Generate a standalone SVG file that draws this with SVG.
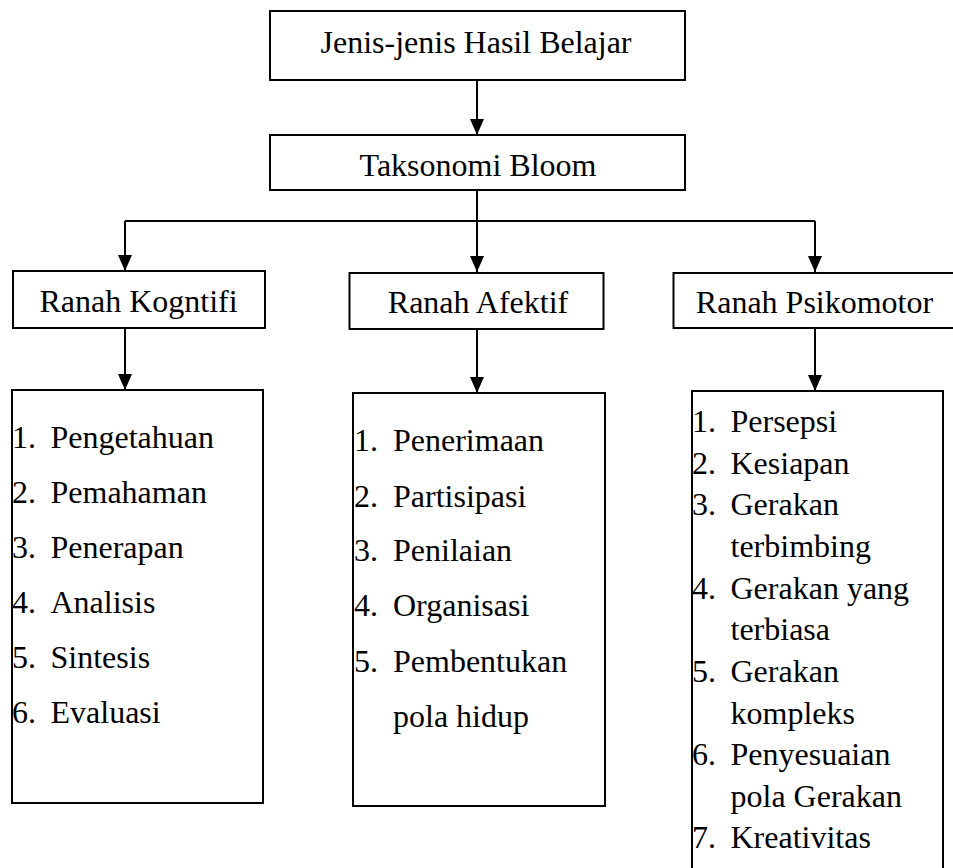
<svg xmlns="http://www.w3.org/2000/svg" width="953" height="868" viewBox="0 0 953 868">
<style>
rect{fill:#fff;stroke:#000;stroke-width:2}
text{font-family:'Liberation Serif',serif;font-size:32px;fill:#000}
.c{text-anchor:middle}
.ln{fill:none;stroke:#000;stroke-width:2}
</style>
<defs>
<marker id="ah" markerUnits="userSpaceOnUse" markerWidth="16" markerHeight="14" refX="16" refY="7" orient="auto">
<path d="M0,0 L16,7 L0,14 z" fill="#000"/>
</marker>
</defs>
<rect x="0" y="0" width="953" height="868" style="stroke:none"/>
<g id="connectors">
<path class="ln" d="M477,80 V135" marker-end="url(#ah)"/>
<path class="ln" d="M477,190 V221"/>
<path class="ln" d="M125,221 H815"/>
<path class="ln" d="M125,221 V271" marker-end="url(#ah)"/>
<path class="ln" d="M477,221 V272" marker-end="url(#ah)"/>
<path class="ln" d="M815,221 V272" marker-end="url(#ah)"/>
<path class="ln" d="M125,328 V390" marker-end="url(#ah)"/>
<path class="ln" d="M477,329 V393" marker-end="url(#ah)"/>
<path class="ln" d="M815,328 V391" marker-end="url(#ah)"/>
</g>
<g id="jenis">
<rect x="270" y="11" width="415" height="69"/>
<text class="c" x="476" y="53">Jenis-jenis Hasil Belajar</text>
</g>
<g id="taksonomi">
<rect x="270" y="135" width="415" height="55"/>
<text class="c" x="478" y="176">Taksonomi Bloom</text>
</g>
<g id="kognitif">
<rect x="13" y="271" width="252" height="57"/>
<text class="c" x="138.5" y="312">Ranah Kogntifi</text>
</g>
<g id="afektif">
<rect x="349.5" y="273" width="254" height="56"/>
<text class="c" x="478" y="313">Ranah Afektif</text>
</g>
<g id="psikomotor">
<rect x="673.5" y="273" width="290" height="55"/>
<text class="c" x="814.5" y="313">Ranah Psikomotor</text>
</g>
<g id="list-kognitif">
<rect x="12" y="390" width="251" height="413"/>
<text x="12" y="448">1.</text><text x="50.5" y="448">Pengetahuan</text>
<text x="12" y="503">2.</text><text x="50.5" y="503">Pemahaman</text>
<text x="12" y="558">3.</text><text x="50.5" y="558">Penerapan</text>
<text x="12" y="612.5">4.</text><text x="50.5" y="612.5">Analisis</text>
<text x="12" y="667.5">5.</text><text x="50.5" y="667.5">Sintesis</text>
<text x="12" y="723">6.</text><text x="50.5" y="723">Evaluasi</text>
</g>
<g id="list-afektif">
<rect x="353" y="393" width="252" height="413"/>
<text x="354" y="451">1.</text><text x="393" y="451">Penerimaan</text>
<text x="354" y="506.5">2.</text><text x="393" y="506.5">Partisipasi</text>
<text x="354" y="561">3.</text><text x="393" y="561">Penilaian</text>
<text x="354" y="615.5">4.</text><text x="393" y="615.5">Organisasi</text>
<text x="354" y="671.5">5.</text><text x="393" y="671.5">Pembentukan</text>
<text x="393" y="726.5">pola hidup</text>
</g>
<g id="list-psikomotor">
<rect x="692" y="391" width="251" height="490"/>
<text x="692" y="431.5">1.</text><text x="730.5" y="431.5">Persepsi</text>
<text x="692" y="473.5">2.</text><text x="730.5" y="473.5">Kesiapan</text>
<text x="692" y="515">3.</text><text x="730.5" y="515">Gerakan</text>
<text x="730.5" y="556.5">terbimbing</text>
<text x="692" y="598.5">4.</text><text x="730.5" y="598.5">Gerakan yang</text>
<text x="730.5" y="640">terbiasa</text>
<text x="692" y="682">5.</text><text x="730.5" y="682">Gerakan</text>
<text x="730.5" y="723.5">kompleks</text>
<text x="692" y="765">6.</text><text x="730.5" y="765">Penyesuaian</text>
<text x="730.5" y="806.5">pola Gerakan</text>
<text x="692" y="848">7.</text><text x="730.5" y="848">Kreativitas</text>
</g>
</svg>
